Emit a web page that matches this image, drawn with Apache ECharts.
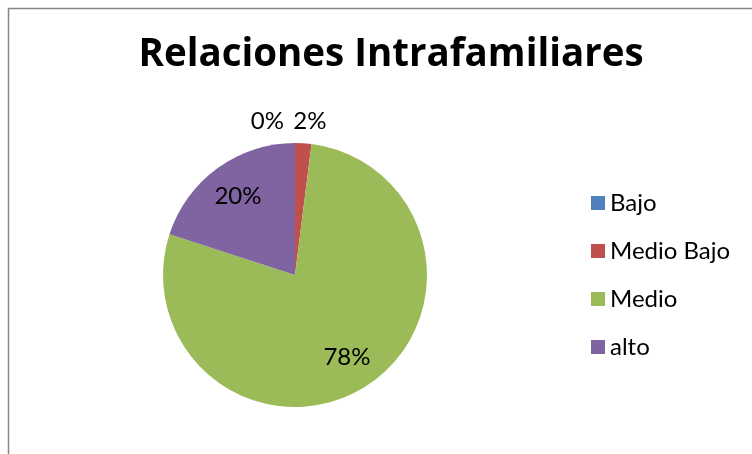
<!DOCTYPE html>
<html>
<head>
<meta charset="utf-8">
<script src="https://cdn.jsdelivr.net/npm/echarts@6/dist/echarts.min.js"></script>
<style>
html,body{margin:0;padding:0;background:#fff;}
#main{width:752px;height:454px;}
</style>
</head>
<body>
<div id="main"></div>
<script>
var categories=['Bajo','Medio Bajo','Medio','alto'];
var values=[0,1,39,10];
var colors=['#4f81bd','#c0504d','#9bbb59','#8064a2'];
var titleText='Relaciones Intrafamiliares';

var total=values.reduce(function(a,b){return a+b;},0);
function pct(v){return Math.round(v/total*100)+'%';}

// main pie, outer labels only for the small slices
var mainData=categories.map(function(c,i){
	var small=values[i]/total<0.05;
	return {name:c,value:values[i],label:{show:small}};
});
// transparent ring just to put the big labels further out
var labelData=categories.map(function(c,i){
	var small=values[i]/total<0.05;
	return {name:c,value:values[i],label:{show:!small}};
});

var chart=echarts.init(document.getElementById('main'));
chart.setOption({
	animation:false,
	color:colors,
	title:{
		text:titleText,left:386,textAlign:'center',top:31,
		textStyle:{fontFamily:'Open Sans',fontWeight:'bold',fontSize:38.5,color:'#000'}
	},
	graphic:[{
		type:'polyline',silent:true,
		shape:{points:[[8.5,460],[8.5,8.5],[760,8.5]]},
		style:{stroke:'#868686',lineWidth:1.5,fill:null}
	}],
	legend:{
		orient:'vertical',left:591,top:191,padding:0,
		itemWidth:14,itemHeight:14,itemGap:24,icon:'rect',
		data:categories,
		textStyle:{fontFamily:'Lato',fontSize:24,lineHeight:24,color:'#000'}
	},
	series:[{
		type:'pie',center:[295,275],radius:132,
		startAngle:90,clockwise:true,
		itemStyle:{borderWidth:0},
		label:{position:'outside',formatter:function(p){return pct(p.value);},
			fontFamily:'Lato',fontSize:24,color:'#000'},
		labelLine:{show:false},
		labelLayout:function(p){
			if(p.dataIndex===0) return {align:'right',dx:24,dy:-7};
			return {align:'left',dx:-46,dy:-7};
		},
		data:mainData
	},{
		type:'pie',center:[295,275],radius:[56,132],
		startAngle:90,clockwise:true,silent:true,
		itemStyle:{color:'rgba(0,0,0,0)',borderWidth:0},
		label:{position:'inside',formatter:function(p){return pct(p.value);},
			fontFamily:'Lato',fontSize:24,color:'#000'},
		labelLine:{show:false},
		data:labelData
	}]
});
</script>
</body>
</html>
